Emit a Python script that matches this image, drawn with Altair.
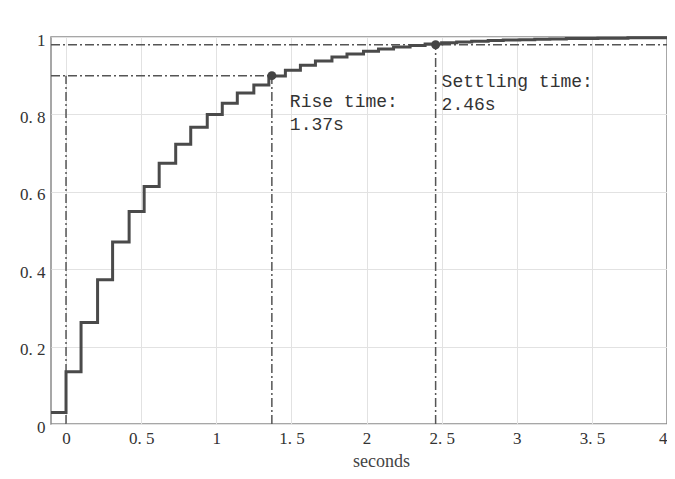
import altair as alt
import pandas as pd

# step response (value held from each time until the next)
step_times = [-0.1, 0.0, 0.10, 0.21, 0.31, 0.42, 0.52, 0.62, 0.73, 0.83, 0.94,
              1.04, 1.14, 1.25, 1.35, 1.46, 1.56, 1.66, 1.77, 1.87, 1.98,
              2.08, 2.18, 2.29, 2.39, 2.50, 2.60, 2.70, 2.81, 2.91, 3.02,
              3.12, 3.22, 3.33, 3.43, 3.54, 3.64, 3.74, 3.85, 3.95, 4.0]
step_values = [0.03, 0.135, 0.262, 0.373, 0.47, 0.549, 0.614, 0.674, 0.723, 0.767, 0.80,
               0.829, 0.855, 0.876, 0.899, 0.914, 0.927, 0.938, 0.948, 0.956, 0.963,
               0.969, 0.974, 0.978, 0.982, 0.985, 0.987, 0.989, 0.991, 0.992, 0.993,
               0.994, 0.995, 0.996, 0.996, 0.997, 0.997, 0.998, 0.998, 0.998, 0.998]

rise_time = 1.37
settling_time = 2.46
rise_level = 0.9
settle_level = 0.98
x_start = -0.1
x_end = 4.0

x_ticks = [0, 0.5, 1, 1.5, 2, 2.5, 3, 3.5, 4]
y_ticks = [0, 0.2, 0.4, 0.6, 0.8, 1.0]

curve = pd.DataFrame({"t": step_times, "y": step_values})

guides = pd.DataFrame({
    "x": [x_start, x_start, 0.0, rise_time, settling_time],
    "x2": [rise_time, x_end, 0.0, rise_time, settling_time],
    "y": [rise_level, settle_level, 0.0, 0.0, 0.0],
    "y2": [rise_level, settle_level, rise_level, rise_level, settle_level],
})

rise_pt = pd.DataFrame({"t": [rise_time], "y": [rise_level], "label": ["Rise time:\n1.37s"]})
settle_pt = pd.DataFrame({"t": [settling_time], "y": [settle_level], "label": ["Settling time:\n2.46s"]})
points = pd.concat([rise_pt, settle_pt])

xscale = alt.Scale(domain=[x_start, x_end], nice=False, zero=False)
yscale = alt.Scale(domain=[0, 1.0], nice=False)

xaxis = alt.Axis(values=x_ticks, title="seconds", grid=True, gridColor="#e2e2e2",
                 domain=False, ticks=False, labelFont="Liberation Serif", labelFontSize=17,
                 labelColor="#333", labelPadding=6,
                 labelExpr="replace(format(datum.value, '~g'), '.', '. ')",
                 titleFont="Liberation Serif", titleFontSize=18, titleFontWeight="normal",
                 titleColor="#444", titleX=330, titleY=28, titleBaseline="top")
yaxis = alt.Axis(values=y_ticks, title=None, grid=True, gridColor="#e2e2e2",
                 domain=False, ticks=False, labelFont="Liberation Serif", labelFontSize=17,
                 labelColor="#333", labelPadding=6, labelOffset=3,
                 labelExpr="replace(format(datum.value, '~g'), '.', '. ')")

line = alt.Chart(curve).mark_line(interpolate="step-after", color="#4a4a4a",
                                  strokeWidth=3).encode(
    x=alt.X("t:Q", scale=xscale, axis=xaxis),
    y=alt.Y("y:Q", scale=yscale, axis=yaxis),
)

rules = alt.Chart(guides).mark_rule(color="#555", strokeWidth=1.5,
                                    strokeDash=[9, 3, 2, 3]).encode(
    x=alt.X("x:Q", scale=xscale), x2="x2:Q",
    y=alt.Y("y:Q", scale=yscale), y2="y2:Q",
)

dots = alt.Chart(points).mark_circle(size=80, color="#444", opacity=1).encode(
    x=alt.X("t:Q", scale=xscale), y=alt.Y("y:Q", scale=yscale)
)

rise_text = alt.Chart(rise_pt).mark_text(align="left", baseline="alphabetic",
                                         font="Liberation Mono", fontSize=18, color="#333",
                                         lineBreak="\n", lineHeight=23, dx=18, dy=31).encode(
    x=alt.X("t:Q", scale=xscale), y=alt.Y("y:Q", scale=yscale), text="label:N"
)
settle_text = alt.Chart(settle_pt).mark_text(align="left", baseline="alphabetic",
                                             font="Liberation Mono", fontSize=18, color="#333",
                                             lineBreak="\n", lineHeight=23, dx=6, dy=42).encode(
    x=alt.X("t:Q", scale=xscale), y=alt.Y("y:Q", scale=yscale), text="label:N"
)

chart = alt.layer(rules, line, dots, rise_text, settle_text).properties(
    width=616, height=387,
    autosize=alt.AutoSizeParams(type="none"),
    padding={"left": 43, "top": 29, "right": 0, "bottom": 48},
    background="white",
).configure_view(stroke="#8a8a8a", strokeWidth=1.5)

chart.save("out.html", embed_options={"renderer": "svg", "actions": False})
